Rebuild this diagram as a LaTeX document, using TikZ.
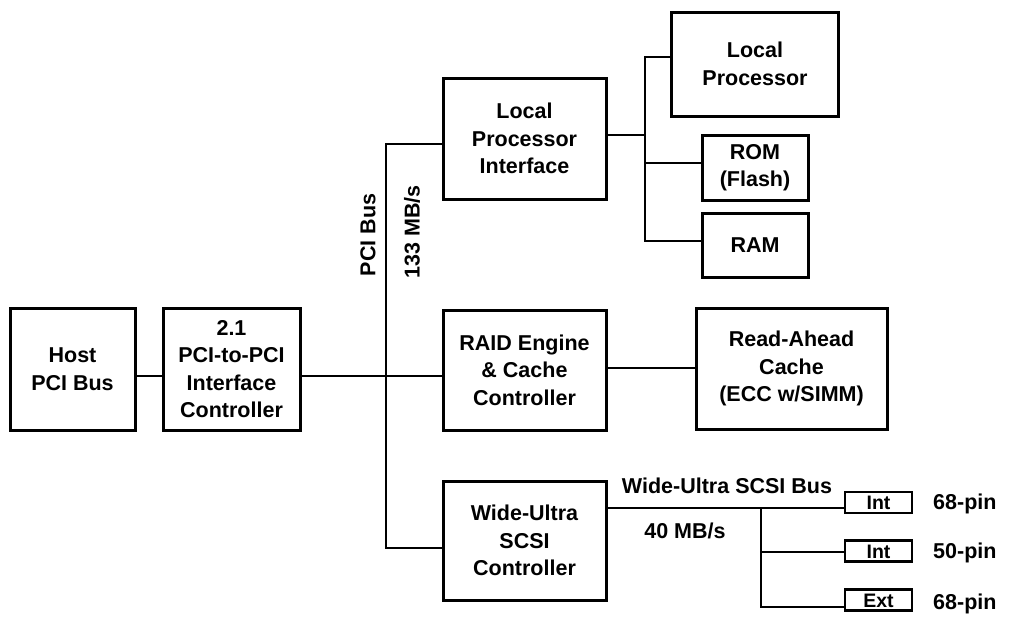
\documentclass[tikz,border=0pt]{standalone}
\usepackage{fontspec}
\setmainfont{Liberation Sans}
\begin{document}
\begin{tikzpicture}[x=1pt,y=-1pt,
  box/.style={draw,line width=3pt,align=center,inner sep=0pt,font=\bfseries\fontsize{21.5}{27.5}\selectfont},
  small/.style={draw,line width=2.5pt,inner sep=0pt,text height=14pt,text depth=0pt,font=\bfseries\fontsize{19.5}{22}\selectfont},
  lbl/.style={inner sep=0pt,font=\bfseries\fontsize{21.5}{24}\selectfont},
  wire/.style={line width=1.5pt}]
\useasboundingbox (0,0) rectangle (1011,616);
\node[box,minimum width=125,minimum height=122] (host) at (72.5,369) {Host\\PCI Bus};
\node[box,minimum width=137,minimum height=122] (p2p) at (231.5,369) {2.1\\PCI-to-PCI\\Interface\\Controller};
\node[box,minimum width=163,minimum height=121] (lpi) at (524.5,138.5) {Local\\Processor\\Interface};
\node[box,minimum width=163,minimum height=120] (raid) at (524.5,370) {RAID Engine\\\& Cache\\Controller};
\node[box,minimum width=163,minimum height=119] (scsi) at (524.5,540.5) {Wide-Ultra\\SCSI\\Controller};
\node[box,minimum width=167,minimum height=104] (lp) at (755,64) {Local\\Processor};
\node[box,minimum width=106,minimum height=65] (rom) at (755,167.5) {ROM\\(Flash)};
\node[box,minimum width=106,minimum height=64] (ram) at (755,245) {RAM};
\node[box,minimum width=191,minimum height=121] (rac) at (791.5,368.5) {Read-Ahead\\Cache\\(ECC w/SIMM)};
\node[small,minimum width=67,minimum height=21] (int1) at (878.5,502.5) {Int};
\node[small,minimum width=67,minimum height=21] (int2) at (878.5,551) {Int};
\node[small,minimum width=67,minimum height=21] (ext) at (878.5,600) {Ext};
\node[lbl,anchor=west] (p1) at (933,504) {68-pin};
\node[lbl,anchor=west] (p2) at (933,553) {50-pin};
\node[lbl,anchor=west] (p3) at (933,604) {68-pin};
\node[lbl] (busl) at (727,486) {Wide-Ultra SCSI Bus};
\node[lbl] (speed) at (685,531) {40 MB/s};
\node[lbl,rotate=90] (pcil) at (368,235) {PCI Bus};
\node[lbl,rotate=90] (pcis) at (412,232) {133 MB/s};
% PCI bus
\coordinate (bt) at (386,144);
\coordinate (bm) at (386,376);
\coordinate (bb) at (386,548);
\draw[wire] (bt -| lpi.west) -- (bt) -- (bb) -- (bb -| scsi.west);
\draw[wire] (host.east |- bm) -- (p2p.west |- bm);
\draw[wire] (p2p.east |- bm) -- (raid.west |- bm);
% local processor bracket
\coordinate (kt) at (645,57);
\coordinate (km) at (645,135);
\coordinate (kr) at (645,163);
\coordinate (kb) at (645,241);
\draw[wire] (lp.west |- kt) -- (kt) -- (kb) -- (kb -| ram.west);
\draw[wire] (lpi.east |- km) -- (km);
\draw[wire] (kr) -- (kr -| rom.west);
% RAID to cache
\draw[wire] (raid.east |- 0,368) -- (rac.west |- 0,368);
% SCSI bus
\coordinate (s1) at (761,508);
\coordinate (s2) at (761,552);
\coordinate (s3) at (761,607);
\draw[wire] (scsi.east |- s1) -- (int1.west |- s1);
\draw[wire] (s1) -- (s3) -- (s3 -| ext.west);
\draw[wire] (s2) -- (s2 -| int2.west);
\end{tikzpicture}
\end{document}
